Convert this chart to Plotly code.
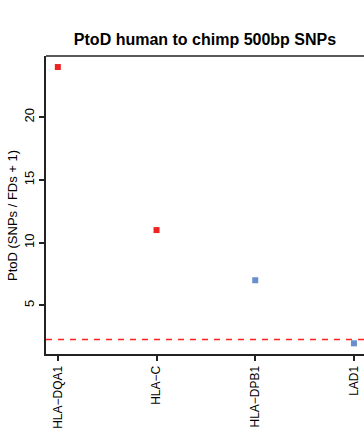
import plotly.graph_objects as go

# Data
genes = ["HLA−DQA1", "HLA−C", "HLA−DPB1", "LAD1"]
ptod = [24.0, 11.0, 7.0, 1.97]
colors = ["#EE2222", "#EE2222", "#6A8ECC", "#6A8ECC"]
threshold = 2.28
yticks = [5, 10, 15, 20]
title_text = "PtoD human to chimp 500bp SNPs"
ylab = "PtoD (SNPs / FDs + 1)"

x_pos = list(range(1, len(genes) + 1))

W, H = 364, 431
ML, MR, MT, MB = 46, 0, 56, 77

fig = go.Figure()
fig.add_trace(go.Scatter(
    x=x_pos, y=ptod, mode="markers",
    marker=dict(symbol="square", size=6, color=colors, line=dict(width=0)),
    showlegend=False, hoverinfo="skip",
))

fig.add_shape(type="line", xref="paper", yref="y", x0=0, x1=1, y0=threshold, y1=threshold,
              line=dict(color="#FF2020", width=1.5, dash="6px,6px"))
# top frame line
fig.add_shape(type="line", xref="paper", yref="paper", x0=0, x1=1, y0=1, y1=1,
              line=dict(color="#222", width=1.5))

font = dict(family="Liberation Sans, Arial, Helvetica, sans-serif", color="black")

fig.update_layout(
    width=W, height=H,
    margin=dict(l=ML, r=MR, t=MT, b=MB, pad=0),
    paper_bgcolor="white", plot_bgcolor="white",
    font=dict(**font, size=12),
    title=dict(text="<b>" + title_text + "</b>", x=(205 - ML) / (W - ML), xref="paper",
               xanchor="center", y=1 - 39 / H, yref="container", yanchor="middle",
               font=dict(**font, size=16)),
    xaxis=dict(
        range=[0.88, 0.88 + (W - ML - MR) / 98.7],
        tickmode="array", tickvals=x_pos, ticktext=genes,
        tickangle=-90, ticks="outside", ticklen=5, tickwidth=1.5, tickcolor="#222",
        showline=True, linecolor="#222", linewidth=2,
        showgrid=False, zeroline=False, tickfont=dict(**font, size=12),
    ),
    yaxis=dict(
        range=[1.12, 24.88],
        tickmode="array", tickvals=yticks, ticktext=[str(v) for v in yticks],
        tickangle=-90, ticks="outside", ticklen=5, tickwidth=1.5, tickcolor="#222",
        showline=True, linecolor="#222", linewidth=2,
        showgrid=False, zeroline=False, tickfont=dict(**font, size=13),
    ),
)

fig.add_annotation(text=ylab, xref="paper", yref="paper",
                   x=(12 - ML) / (W - ML - MR), y=(H - MB - 216) / (H - MT - MB),
                   xanchor="center", yanchor="middle", textangle=-90, showarrow=False,
                   font=dict(**font, size=13))

fig.write_html("out.html")
